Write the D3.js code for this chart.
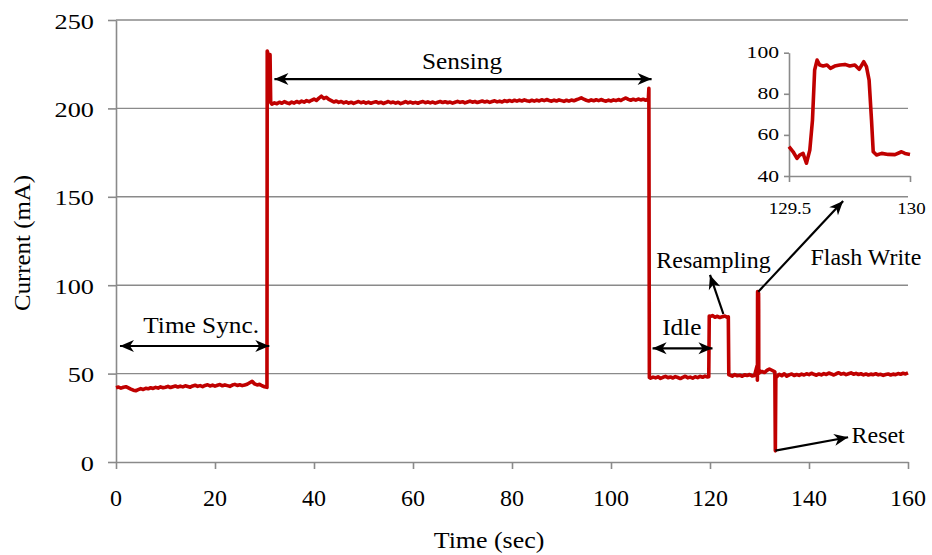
<!DOCTYPE html>
<html>
<head>
<meta charset="utf-8">
<script src="https://cdn.jsdelivr.net/npm/d3@7"></script>
<style>
  html, body { margin: 0; padding: 0; background: #fff; }
  svg { display: block; }
  text { font-family: "Liberation Serif", "Times New Roman", serif; fill: #000; }
</style>
</head>
<body>
<svg id="chart" width="932" height="555"></svg>
<script>
// ---- Data: supply current of the node over one duty cycle ----
const STEP = 0.5; // sampling interval of the regular segments (s)

// Time synchronisation, t = 0 … 30.5 s
const timeSyncStart = 0;
const timeSyncCurrent = [
  42.0, 42.4, 41.8, 42.3, 42.6, 41.9, 41.2, 40.6, 40.3, 40.9,
  41.5, 41.0, 41.7, 41.4, 42.0, 41.6, 42.2, 41.8, 42.5, 42.0,
  42.3, 42.8, 42.1, 42.6, 43.0, 42.4, 42.9, 42.5, 43.1, 42.7,
  42.3, 43.0, 43.4, 42.8, 43.2, 42.6, 43.3, 43.7, 43.0, 43.5,
  42.9, 43.4, 43.8, 43.1, 43.6, 43.2, 42.8, 43.5, 43.9, 43.3,
  43.7, 43.2, 43.6, 44.0, 44.8, 45.6, 44.2, 43.6, 43.9, 43.1,
  42.6, 42.2
];

// Sensor power-up transient
const startupTime    = [30.55, 30.65, 30.72, 31.05, 31.12, 31.25];
const startupCurrent = [232.4, 231.6, 205.0, 205.5, 230.4, 203.4];

// Sensing, t = 31.5 … 107.0 s
const sensingStart = 31.5;
const sensingCurrent = [
  202.4, 203.1, 202.6, 203.5, 202.9, 203.8, 203.2, 202.7, 203.6, 203.0,
  203.9, 203.3, 204.1, 203.5, 204.4, 203.8, 204.6, 205.3, 204.5, 205.8,
  206.9, 205.6, 206.3, 205.1, 204.4, 203.6, 204.2, 203.4, 203.9, 203.1,
  203.7, 203.0, 203.5, 202.8, 203.4, 203.9, 203.2, 203.7, 203.0, 203.6,
  202.9, 203.4, 203.8, 203.1, 203.5, 202.8, 203.3, 203.9, 203.2, 203.6,
  203.0, 203.5, 202.7, 203.2, 203.8, 203.1, 203.6, 203.0, 203.4, 202.9,
  203.5, 203.9, 203.2, 203.7, 203.1, 203.6, 203.0, 203.5, 203.9, 203.3,
  203.8, 203.2, 203.6, 203.0, 203.5, 204.0, 203.4, 203.8, 203.1, 203.6,
  204.1, 203.5, 203.9, 203.3, 203.8, 204.2, 203.6, 204.0, 203.4, 203.9,
  204.3, 203.7, 204.1, 203.6, 204.4, 203.9, 204.5, 204.0, 204.6, 204.1,
  204.7, 204.2, 204.8, 204.3, 204.0, 204.6, 204.1, 204.7, 204.2, 204.9,
  204.4, 205.0, 204.5, 204.1, 204.7, 204.2, 204.8, 204.4, 204.0, 204.6,
  204.1, 204.7, 204.3, 204.9, 205.4, 206.0, 205.2, 204.6, 204.2, 204.8,
  204.3, 204.9, 204.4, 205.0, 204.5, 204.1, 204.7, 204.2, 204.8, 204.4,
  205.0, 204.5, 205.3, 205.9, 205.1, 204.6, 205.2, 204.7, 205.3, 204.8,
  205.2, 204.6
];

// Sensor shut-down
const shutdownTime    = [107.55, 107.65, 107.75];
const shutdownCurrent = [205.2, 211.3, 47.8];

// Idle, t = 108.0 … 119.5 s
const idleStart = 108.0;
const idleCurrent = [
  47.4, 48.0, 47.6, 48.2, 47.3, 47.9, 48.4, 47.7, 48.1, 47.5,
  48.3, 47.8, 47.2, 47.9, 48.5, 47.6, 48.0, 47.4, 48.2, 47.7,
  48.4, 47.9, 48.6, 48.1
];

// Resampling, edges then plateau t = 120.0 … 123.5 s
const resampleRiseTime    = [119.75, 119.85];
const resampleRiseCurrent = [48.2, 82.6];
const resampleStart = 120.0;
const resampleCurrent = [82.3, 82.8, 81.9, 82.4, 81.7, 82.2, 82.6, 81.8];
const resampleFallTime    = [123.7, 123.8];
const resampleFallCurrent = [82.1, 49.3];

// Back to idle, t = 124.0 … 129.0 s
const preFlashStart = 124.0;
const preFlashCurrent = [49.2, 48.6, 49.4, 48.8, 49.1, 48.5, 49.3, 48.9, 49.5, 48.7, 49.0];

// Flash write, detailed trace 129.5 … 130 s
const flashTime = [
  129.500, 129.517, 129.533, 129.544, 129.558, 129.572, 129.586, 129.597,
  129.606, 129.616, 129.627, 129.641, 129.657, 129.671, 129.689, 129.710,
  129.731, 129.751, 129.772, 129.790, 129.809, 129.820, 129.831, 129.841,
  129.848, 129.862, 129.883, 129.910, 129.938, 129.965, 129.979, 130.000
];
const flashCurrent = [
  54.3, 51.8, 48.6, 50.2, 51.0, 46.2, 52.6, 67.2,
  91.6, 96.4, 94.0, 93.5, 94.0, 92.4, 93.5, 94.0,
  94.3, 93.5, 94.0, 91.9, 95.6, 93.2, 86.7, 67.2,
  51.8, 50.2, 51.0, 50.5, 50.4, 51.8, 51.0, 50.5
];

// After flash write, t = 130.5 … 132.5 s
const postFlashStart = 130.5;
const postFlashCurrent = [51.2, 50.6, 51.8, 52.6, 51.9];

// Reset glitch
const resetTime    = [133.1, 133.2, 133.3];
const resetCurrent = [51.0, 6.3, 47.8];

// After reset, t = 133.5 … 160 s
const afterResetStart = 133.5;
const afterResetCurrent = [
  48.2, 49.6, 48.8, 49.9, 48.5, 49.3, 49.8, 48.9, 49.5, 49.0,
  49.7, 49.2, 49.9, 49.4, 50.2, 49.6, 49.1, 49.8, 49.3, 50.0,
  49.5, 50.3, 49.8, 49.2, 49.9, 50.5, 49.7, 50.1, 49.4, 49.9,
  50.4, 49.6, 50.1, 49.5, 49.9, 49.3, 49.8, 49.2, 49.7, 49.4,
  49.9, 49.3, 49.6, 49.0, 49.5, 49.8, 49.2, 49.7, 49.4, 50.0,
  49.6, 50.2, 49.8, 50.4
];

// Axes ticks
const xTicks = [0, 20, 40, 60, 80, 100, 120, 140, 160];
const yTicks = [0, 50, 100, 150, 200, 250];
const insetXTicks = [129.5, 130];
const insetYTicks = [40, 60, 80, 100];

// Annotations in data units (time s, current mA)
const spanLabels = [
  { text: "Time Sync.", t0: 0.8,   t1: 30.97, y: 65.6,  tx: 17.2,  ty: 73.0 },
  { text: "Sensing",    t0: 32.0,  t1: 108.2, y: 216.6, tx: 69.9,  ty: 222.3 },
  { text: "Idle",       t0: 108.4, t1: 120.5, y: 64.3,  tx: 114.3, ty: 71.8 }
];
const pointerLabels = [
  { text: "Resampling",  from: [122.7, 83.7],  to: [120.0, 105.8], tx: 120.7, ty: 109.7, anchor: "middle" },
  { text: "Flash Write", from: [129.75, 96.3], to: [146.9, 147.6], tx: 151.5, ty: 111.5, anchor: "middle" },
  { text: "Reset",       from: [133.2, 6.4],   to: [147.9, 14.0],  tx: 148.6, ty: 10.9,  anchor: "start" }
];

// ---- Build the series ----
const seq = (start, values) => values.map((v, i) => ({ t: start + i * STEP, v }));
const pairs = (ts, vs) => ts.map((t, i) => ({ t, v: vs[i] }));

const series = [].concat(
  seq(timeSyncStart, timeSyncCurrent),
  pairs(startupTime, startupCurrent),
  seq(sensingStart, sensingCurrent),
  pairs(shutdownTime, shutdownCurrent),
  seq(idleStart, idleCurrent),
  pairs(resampleRiseTime, resampleRiseCurrent),
  seq(resampleStart, resampleCurrent),
  pairs(resampleFallTime, resampleFallCurrent),
  seq(preFlashStart, preFlashCurrent),
  pairs(flashTime, flashCurrent),
  seq(postFlashStart, postFlashCurrent),
  pairs(resetTime, resetCurrent),
  seq(afterResetStart, afterResetCurrent)
);
const flashSeries = pairs(flashTime, flashCurrent);

// ---- Layout ----
const svg = d3.select("#chart");
const W = 932, H = 555;
const plot = { left: 116, right: 908, top: 20, bottom: 462 };
const inset = { left: 789, right: 910, top: 52.7, bottom: 176 };

const GRID = "#8a8a8a";
const LINE = "#c00000";

const x = d3.scaleLinear().domain([0, 160]).range([plot.left, plot.right]);
const y = d3.scaleLinear().domain([0, 250]).range([plot.bottom, plot.top]);

svg.append("rect").attr("width", W).attr("height", H).attr("fill", "#fff");

// Horizontal gridlines
svg.append("g")
  .selectAll("line")
  .data(yTicks.filter(d => d > 0))
  .join("line")
  .attr("x1", plot.left).attr("x2", plot.right)
  .attr("y1", d => y(d)).attr("y2", d => y(d))
  .attr("stroke", GRID).attr("stroke-width", 1.4);

// Axes
const styleAxis = g => {
  g.select(".domain").attr("stroke", GRID).attr("stroke-width", 1.6);
  g.selectAll(".tick line").attr("stroke", GRID).attr("stroke-width", 1.6);
  g.selectAll(".tick text").remove();
};
svg.append("g")
  .attr("transform", `translate(${plot.left},0)`)
  .call(d3.axisLeft(y).tickValues(yTicks).tickSize(8).tickSizeOuter(0).tickFormat(""))
  .call(styleAxis);
svg.append("g")
  .attr("transform", `translate(0,${plot.bottom})`)
  .call(d3.axisBottom(x).tickValues(xTicks).tickSize(7).tickSizeOuter(0).tickFormat(""))
  .call(styleAxis);

// Text with a slightly wide set width, as in the hinted serif face
function wideText(sel, size, sx) {
  return sel.attr("font-size", size)
    .attr("transform", d => `translate(${d.px},${d.py}) scale(${sx},1)`);
}

svg.append("g")
  .selectAll("text")
  .data(yTicks.map(d => ({ label: d, px: 94, py: y(d) + 8.5 })))
  .join("text")
  .attr("text-anchor", "end")
  .text(d => d.label)
  .call(wideText, 21, 1.25);

svg.append("g")
  .selectAll("text")
  .data(xTicks.map(d => ({ label: d, px: x(d), py: 506 })))
  .join("text")
  .attr("text-anchor", "middle")
  .text(d => d.label)
  .call(wideText, 24, 1.0);

// Axis titles
svg.append("text")
  .attr("text-anchor", "middle")
  .attr("font-size", 24)
  .attr("transform", "translate(489,548) scale(1.08,1)")
  .text("Time (sec)");
svg.append("text")
  .attr("text-anchor", "middle")
  .attr("font-size", 23)
  .attr("transform", "translate(30,243) rotate(-90) scale(1.08,1)")
  .text("Current (mA)");

// Current trace
const line = d3.line().x(d => x(d.t)).y(d => y(d.v));
svg.append("path")
  .datum(series)
  .attr("d", line)
  .attr("fill", "none")
  .attr("stroke", LINE)
  .attr("stroke-width", 3.6)
  .attr("stroke-linejoin", "round")
  .attr("stroke-linecap", "butt");

// ---- Inset: flash write detail ----
const ix = d3.scaleLinear().domain([129.5, 130]).range([inset.left, inset.right]);
const iy = d3.scaleLinear().domain([40, 100]).range([inset.bottom, inset.top]);

svg.append("g")
  .attr("transform", `translate(${inset.left},0)`)
  .call(d3.axisLeft(iy).tickValues(insetYTicks).tickSize(5).tickSizeOuter(0).tickFormat(""))
  .call(styleAxis);
svg.append("g")
  .attr("transform", `translate(0,${inset.bottom})`)
  .call(d3.axisBottom(ix).tickValues(insetXTicks).tickSize(6).tickSizeOuter(0).tickFormat(""))
  .call(styleAxis);

svg.append("g")
  .selectAll("text")
  .data(insetYTicks.map(d => ({ label: d, px: 779, py: iy(d) + 5.5 })))
  .join("text")
  .attr("text-anchor", "end")
  .text(d => d.label)
  .call(wideText, 16, 1.35);
svg.append("g")
  .selectAll("text")
  .data(insetXTicks.map(d => ({ label: d, px: ix(d) + (d === 130 ? 1.5 : 1), py: 214 })))
  .join("text")
  .attr("text-anchor", "middle")
  .text(d => d.label)
  .call(wideText, 16, 1.18);

svg.append("path")
  .datum(flashSeries)
  .attr("d", d3.line().x(d => ix(d.t)).y(d => iy(d.v)))
  .attr("fill", "none")
  .attr("stroke", LINE)
  .attr("stroke-width", 3.6)
  .attr("stroke-linejoin", "round");

// ---- Annotations ----
const defs = svg.append("defs");
defs.append("marker")
  .attr("id", "head")
  .attr("viewBox", "-15 -7 16 14")
  .attr("refX", 0).attr("refY", 0)
  .attr("markerUnits", "userSpaceOnUse")
  .attr("markerWidth", 16).attr("markerHeight", 14)
  .attr("orient", "auto-start-reverse")
  .append("path")
  .attr("d", "M0,0 L-14,-6 L-10,0 L-14,6 Z")
  .attr("fill", "#000");

const ann = svg.append("g");

ann.selectAll("line.span")
  .data(spanLabels)
  .join("line")
  .attr("class", "span")
  .attr("x1", d => x(d.t0)).attr("x2", d => x(d.t1))
  .attr("y1", d => y(d.y)).attr("y2", d => y(d.y))
  .attr("stroke", "#000").attr("stroke-width", 2.2)
  .attr("marker-start", "url(#head)")
  .attr("marker-end", "url(#head)");

ann.selectAll("line.ptr")
  .data(pointerLabels)
  .join("line")
  .attr("class", "ptr")
  .attr("x1", d => x(d.from[0])).attr("y1", d => y(d.from[1]))
  .attr("x2", d => x(d.to[0])).attr("y2", d => y(d.to[1]))
  .attr("stroke", "#000").attr("stroke-width", 2.2)
  .attr("marker-end", "url(#head)");

ann.selectAll("text.span")
  .data(spanLabels.map(d => ({ ...d, px: x(d.tx), py: y(d.ty) })))
  .join("text")
  .attr("class", "span")
  .attr("text-anchor", "middle")
  .text(d => d.text)
  .call(wideText, 23, 1.1);

ann.selectAll("text.ptr")
  .data(pointerLabels.map(d => ({ ...d, px: x(d.tx), py: y(d.ty) })))
  .join("text")
  .attr("class", "ptr")
  .attr("text-anchor", d => d.anchor)
  .text(d => d.text)
  .call(wideText, 23, 1.04);
</script>
</body>
</html>
